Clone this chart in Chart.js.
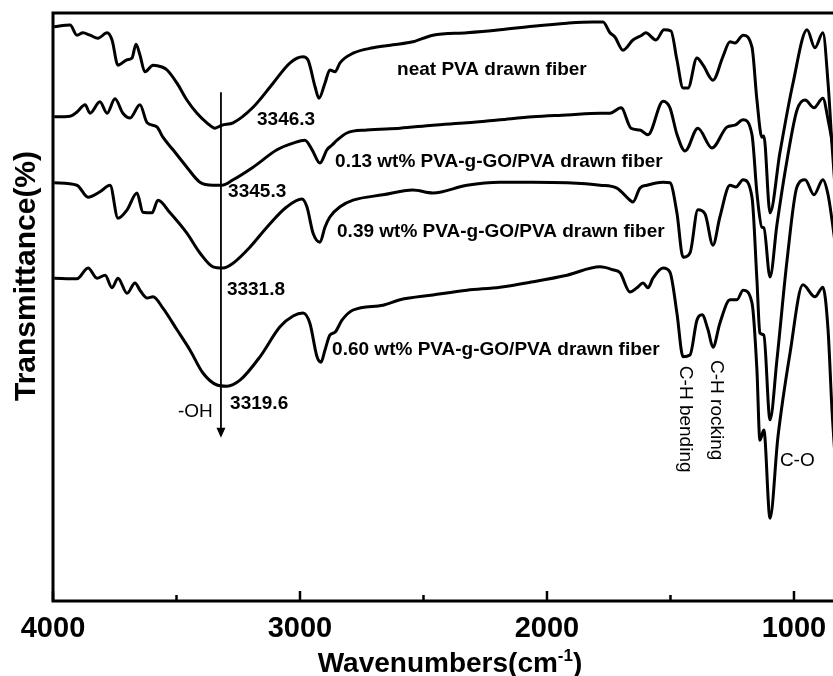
<!DOCTYPE html>
<html>
<head>
<meta charset="utf-8">
<script src="https://cdn.jsdelivr.net/npm/chart.js@4.4.0/dist/chart.umd.min.js"></script>
<style>
  html, body { margin: 0; padding: 0; background: #fff; }
  #wrap { width: 833px; height: 676px; }
</style>
</head>
<body>
<div id="wrap"><canvas id="ftir"></canvas></div>
<script>
/* =======================
   Data
======================= */
const xMajorTicks = [4000, 3000, 2000, 1000];
const xMinorTicks = [3500, 2500, 1500];

const neatWn = [3995,3931,3903,3879,3850,3818,3781,3761,3737,3700,3680,3664,3648,3628,3595,3559,3538,3498,3458,3417,3377,3344,3316,3271,3190,3109,3040,2988,2968,2939,2923,2899,2879,2858,2838,2785,2704,2623,2543,2462,2324,2190,2057,1919,1814,1773,1745,1725,1692,1652,1616,1600,1559,1526,1498,1474,1449,1429,1393,1368,1328,1288,1259,1239,1206,1170,1150,1130,1122,1097,1057,1004,947,915,883,862,846,830];
const neatT  = [95.7,96.0,94.3,94.7,94.3,93.8,94.7,93.5,89.3,90.2,90.5,92.8,91.0,88.2,89.3,89.0,88.5,86.3,83.5,81.3,79.7,78.8,79.3,79.7,82.3,86.3,89.7,90.7,90.2,85.7,83.8,86.3,88.5,88.2,89.7,91.3,92.2,92.7,93.2,94.3,94.7,95.2,95.8,96.3,96.5,96.5,94.7,94.0,91.8,93.5,94.3,94.7,93.5,95.2,95.0,90.2,85.5,85.5,90.5,89.3,86.8,90.7,93.2,93.0,94.3,92.3,83.5,77.3,77.5,64.7,74.7,86.3,95.2,92.2,94.7,86.3,76.0,66.8];

const go013Wn = [3995,3931,3903,3870,3850,3810,3781,3749,3717,3688,3648,3619,3579,3555,3514,3458,3405,3352,3316,3271,3190,3093,3028,2980,2951,2919,2891,2870,2850,2810,2729,2595,2462,2324,2190,2057,1919,1785,1745,1700,1660,1624,1591,1530,1502,1474,1441,1389,1332,1271,1239,1206,1170,1150,1130,1122,1097,1069,1028,988,955,919,883,862,842,830];
const go013T  = [80.7,80.8,81.5,82.7,81.3,83.2,81.3,83.7,81.3,80.5,82.7,79.7,79.0,77.3,75.2,72.3,69.8,69.3,69.3,70.2,72.3,75.2,76.3,76.8,75.2,73.0,75.2,76.0,76.8,78.0,78.5,78.8,79.3,79.7,80.2,80.7,81.0,81.3,81.3,82.2,78.8,78.5,77.7,83.3,82.2,77.8,75.0,78.8,75.5,79.0,79.3,80.2,77.7,68.0,62.3,62.2,54.0,62.7,73.5,81.8,83.5,82.2,83.8,80.2,75.5,71.0];

const go039Wn = [3995,3903,3858,3810,3769,3737,3700,3660,3636,3599,3575,3526,3458,3405,3352,3312,3271,3202,3134,3053,2992,2972,2947,2919,2899,2879,2838,2785,2664,2543,2462,2324,2190,2057,1919,1785,1717,1664,1652,1624,1595,1530,1502,1474,1449,1421,1389,1360,1328,1300,1259,1235,1206,1170,1150,1138,1122,1097,1069,1028,988,955,919,883,862,846,830];
const go039T  = [69.7,69.3,67.3,68.2,69.3,63.8,65.2,68.0,64.8,64.7,66.8,64.7,61.3,58.0,55.7,55.5,56.3,59.0,62.3,65.7,67.0,65.7,61.3,59.8,62.3,64.0,65.7,66.8,67.7,68.5,68.0,69.3,69.8,69.8,69.7,69.3,68.8,66.8,66.5,68.8,69.3,69.8,69.7,64.7,57.3,58.0,65.2,64.5,59.3,64.0,69.3,69.0,70.2,67.3,53.5,44.7,44.3,30.2,40.2,56.8,69.0,70.2,67.7,70.2,67.7,63.5,58.5];

const go060Wn = [3995,3903,3858,3822,3789,3761,3737,3700,3668,3648,3619,3595,3555,3498,3445,3393,3336,3296,3243,3162,3081,3028,2988,2960,2931,2915,2899,2879,2858,2830,2785,2664,2595,2462,2324,2190,2057,1919,1785,1733,1704,1664,1636,1611,1591,1571,1530,1502,1474,1449,1421,1393,1372,1348,1328,1300,1259,1231,1206,1170,1150,1138,1122,1097,1065,1016,964,915,883,862,846,830];
const go060T  = [53.8,53.7,55.5,53.8,54.3,52.2,53.8,51.3,53.0,51.8,50.5,50.7,48.8,45.2,41.8,38.0,36.0,35.8,36.8,40.7,45.7,47.5,48.0,46.3,40.7,39.8,41.8,44.3,44.8,46.8,48.5,49.3,50.2,51.0,51.8,52.3,53.2,54.3,55.7,55.2,54.7,51.5,52.2,53.0,52.2,53.8,55.5,54.8,48.0,40.7,41.0,46.8,47.7,45.2,42.3,46.3,50.2,50.2,51.8,49.7,38.5,26.8,28.5,13.8,27.3,41.3,52.7,50.7,52.3,45.2,31.8,21.8];

// text annotations, placed in data units (wavenumber, transmittance)
const sampleNames = ["neat PVA drawn fiber", "0.13 wt% PVA-g-GO/PVA drawn fiber",
                     "0.39 wt% PVA-g-GO/PVA drawn fiber", "0.60 wt% PVA-g-GO/PVA drawn fiber"];
const sampleAt = [[2607, 88.5], [2858, 73.2], [2850, 61.5], [2870, 41.8]];
const peakNames = ["3346.3", "3345.3", "3331.8", "3319.6"];
const peakAt = [[3174, 80.2], [3291, 68.2], [3296, 51.8], [3283, 32.8]];
const bandNames = ["C-H bending", "C-H rocking"];
const bandAt = [[1441, 30.3], [1316, 31.8]];
const ohArrow = { wn: 3320, from: 84.8, to: 27.2 };

const FONT = "'Liberation Sans', Arial, sans-serif";

/* =======================
   Overlay: frame, ticks, labels
======================= */
const overlay = {
  id: "overlay",
  afterDraw(chart) {
    const c = chart.ctx, a = chart.chartArea;
    const xs = chart.scales.x, ys = chart.scales.y;
    c.save();
    c.strokeStyle = "#000";
    c.fillStyle = "#000";

    // frame (right side is cut off in the figure)
    c.lineWidth = 3;
    c.lineJoin = "miter";
    c.beginPath();
    c.moveTo(a.right + 2, a.top);
    c.lineTo(a.left, a.top);
    c.lineTo(a.left, a.bottom);
    c.lineTo(a.right + 2, a.bottom);
    c.stroke();

    // inward ticks
    c.lineWidth = 2.5;
    const tick = (v, len) => {
      const px = xs.getPixelForValue(v);
      c.beginPath();
      c.moveTo(px, a.bottom);
      c.lineTo(px, a.bottom - len);
      c.stroke();
    };
    xMajorTicks.forEach(v => tick(v, 10));
    xMinorTicks.forEach(v => tick(v, 6));

    // -OH arrow
    const ax = xs.getPixelForValue(ohArrow.wn);
    const ay1 = ys.getPixelForValue(ohArrow.from);
    const ay2 = ys.getPixelForValue(ohArrow.to);
    c.lineWidth = 1.8;
    c.beginPath();
    c.moveTo(ax, ay1);
    c.lineTo(ax, ay2 - 8);
    c.stroke();
    c.beginPath();
    c.moveTo(ax - 4.5, ay2 - 10);
    c.lineTo(ax + 4.5, ay2 - 10);
    c.lineTo(ax, ay2);
    c.closePath();
    c.fill();

    // labels
    c.textBaseline = "middle";
    c.textAlign = "left";
    c.font = "bold 19px " + FONT;
    sampleNames.forEach((s, i) => {
      c.fillText(s, xs.getPixelForValue(sampleAt[i][0]), ys.getPixelForValue(sampleAt[i][1]));
    });
    peakNames.forEach((s, i) => {
      c.fillText(s, xs.getPixelForValue(peakAt[i][0]), ys.getPixelForValue(peakAt[i][1]));
    });

    c.font = "19px " + FONT;
    c.fillText("-OH", xs.getPixelForValue(3494), ys.getPixelForValue(31.5));
    c.fillText("C-O", xs.getPixelForValue(1057), ys.getPixelForValue(23.3));
    bandNames.forEach((s, i) => {
      c.save();
      c.translate(xs.getPixelForValue(bandAt[i][0]), ys.getPixelForValue(bandAt[i][1]));
      c.rotate(Math.PI / 2);
      c.textAlign = "center";
      c.fillText(s, 0, 0);
      c.restore();
    });

    // axis titles
    c.save();
    c.translate(a.left - 18, a.top + 263);
    c.rotate(-Math.PI / 2);
    c.textAlign = "center";
    c.textBaseline = "alphabetic";
    c.font = "bold 30px " + FONT;
    c.fillText("Transmittance(%)", 0, 0);
    c.restore();

    c.textBaseline = "alphabetic";
    c.font = "bold 28px " + FONT;
    const main = "Wavenumbers(cm";
    const wMain = c.measureText(main).width;
    c.font = "bold 17px " + FONT;
    const wSup = c.measureText("-1").width;
    c.font = "bold 28px " + FONT;
    const wEnd = c.measureText(")").width;
    let tx = a.left + 397 - (wMain + wSup + wEnd) / 2;
    const ty = a.bottom + 71;
    c.fillText(main, tx, ty);
    tx += wMain;
    c.font = "bold 17px " + FONT;
    c.fillText("-1", tx, ty - 11);
    tx += wSup;
    c.font = "bold 28px " + FONT;
    c.fillText(")", tx, ty);

    c.restore();
  }
};

/* =======================
   Chart
======================= */
const toPoints = (wn, t) => wn.map((w, i) => ({ x: w, y: t[i] }));
const series = [
  toPoints(neatWn, neatT),
  toPoints(go013Wn, go013T),
  toPoints(go039Wn, go039T),
  toPoints(go060Wn, go060T)
];

new Chart(document.getElementById("ftir"), {
  type: "line",
  data: {
    datasets: series.map((d, i) => ({
      label: sampleNames[i],
      data: d,
      borderColor: "#000",
      borderWidth: 3,
      pointRadius: 0,
      fill: false,
      cubicInterpolationMode: "monotone"
    }))
  },
  options: {
    responsive: true,
    maintainAspectRatio: false,
    animation: false,
    layout: { padding: { left: 53, top: 13, right: 0, bottom: 0 } },
    plugins: { legend: { display: false }, tooltip: { enabled: false } },
    scales: {
      x: {
        type: "linear",
        reverse: true,
        min: 842,
        max: 4000,
        afterBuildTicks: s => { s.ticks = xMajorTicks.map(v => ({ value: v })); },
        afterFit: s => { s.height = 75; s.paddingLeft = 0; s.paddingRight = 0; },
        grid: { display: false, drawTicks: false },
        border: { display: false },
        ticks: {
          color: "#000",
          padding: 11,
          maxRotation: 0,
          autoSkip: false,
          font: { family: FONT, size: 29, weight: "bold" },
          callback: v => String(v)
        }
      },
      y: { display: false, min: 0, max: 98 }
    }
  },
  plugins: [overlay]
});
</script>
</body>
</html>
